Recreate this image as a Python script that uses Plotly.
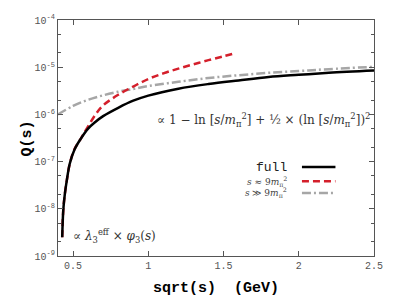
import plotly.graph_objects as go

# ---- data ----
x_full = [0.428, 0.435, 0.445, 0.458, 0.478, 0.51, 0.55, 0.6, 0.65, 0.7, 0.8, 0.9, 1.0, 1.2, 1.4, 1.6, 1.8, 2.0, 2.2, 2.5]
y_full = [2.5e-9, 9.3e-9, 2.0e-8, 3.9e-8, 9.0e-8, 1.8e-7, 3.0e-7, 5.0e-7, 7.0e-7, 9.2e-7, 1.38e-6, 1.95e-6, 2.5e-6, 3.5e-6, 4.4e-6, 5.25e-6, 6.2e-6, 6.9e-6, 7.6e-6, 8.5e-6]

x_thr = [0.428, 0.435, 0.445, 0.458, 0.478, 0.51, 0.55, 0.6, 0.65, 0.7, 0.8, 0.9, 1.0, 1.1, 1.2, 1.3, 1.4, 1.5, 1.58]
y_thr = [2.5e-9, 9.3e-9, 2.0e-8, 3.9e-8, 9.0e-8, 1.85e-7, 3.0e-7, 5.6e-7, 1.0e-6, 1.55e-6, 2.6e-6, 3.89e-6, 5.62e-6, 7.41e-6, 9.33e-6, 1.15e-5, 1.41e-5, 1.70e-5, 2.0e-5]

x_asy = [0.4, 0.5, 0.6, 0.7, 0.8, 0.9, 1.0, 1.2, 1.4, 1.6, 1.8, 2.0, 2.2, 2.5]
y_asy = [1.0e-6, 1.51e-6, 2.04e-6, 2.54e-6, 3.02e-6, 3.47e-6, 3.98e-6, 4.9e-6, 5.9e-6, 6.76e-6, 7.6e-6, 8.3e-6, 9.1e-6, 1.02e-5]

x_ticks = [0.5, 1, 1.5, 2, 2.5]
x_ticklabels = ["0.5", "1", "1.5", "2", "2.5"]
y_ticks = [1e-9, 1e-8, 1e-7, 1e-6, 1e-5, 1e-4]
y_ticklabels = ["10<sup>-9</sup>", "10<sup>-8</sup>", "10<sup>-7</sup>", "10<sup>-6</sup>", "10<sup>-5</sup>", "10<sup>-4</sup>"]
y_minor = [m * 10.0 ** e for e in range(-9, -4) for m in (2, 5)]

legend_labels = ["full", "<i>s</i> ≈ 9<i>m</i><sub>π</sub><sup>2</sup>", "<i>s</i> ≫ 9<i>m</i><sub>π</sub><sup>2</sup>"]

BLACK = "#000000"
RED = "#d41f2b"
GREY = "#a6a6a6"
AXC = "#555555"
MONO = "Liberation Mono, Courier New, monospace"
SERIF = "DejaVu Serif, Liberation Serif, serif"
DASH_RED = "7px,4px"
DASH_GREY = "9px,3px,2px,3px"

fig = go.Figure()
fig.add_trace(go.Scatter(x=x_asy, y=y_asy, mode="lines", line=dict(color=GREY, width=2.5, dash=DASH_GREY, shape="spline"), showlegend=False))
fig.add_trace(go.Scatter(x=x_thr, y=y_thr, mode="lines", line=dict(color=RED, width=2.5, dash=DASH_RED, shape="spline"), showlegend=False))
fig.add_trace(go.Scatter(x=x_full, y=y_full, mode="lines", line=dict(color=BLACK, width=2.5, shape="spline"), showlegend=False))

# legend drawn gnuplot-style: text right-aligned, sample to its right
leg_y = [0.377, 0.317, 0.267]
leg_styles = [dict(color=BLACK, width=2.5), dict(color=RED, width=2.5, dash=DASH_RED), dict(color=GREY, width=2.5, dash=DASH_GREY)]
leg_fonts = [dict(family=MONO, size=13, color="#222"), dict(family=SERIF, size=9, color="#444"), dict(family=SERIF, size=9, color="#444")]
for lab, yy, st, fnt in zip(legend_labels, leg_y, leg_styles, leg_fonts):
    fig.add_annotation(x=0.732, y=yy, xref="paper", yref="paper", text=lab, showarrow=False, xanchor="right", yanchor="middle", font=fnt)
    fig.add_shape(type="line", xref="paper", yref="paper", x0=0.772, x1=0.878, y0=yy, y1=yy, line=st)

fig.add_annotation(x=0.995, y=0.575, xref="paper", yref="paper", showarrow=False, xanchor="right", yanchor="middle",
                   text="∝ 1 − ln [<i>s</i>/<i>m</i><sub>π</sub><sup>2</sup>] + ½ × (ln [<i>s</i>/<i>m</i><sub>π</sub><sup>2</sup>])<sup>2</sup>",
                   font=dict(family=SERIF, size=12, color="#333"))
fig.add_annotation(x=0.04, y=0.085, xref="paper", yref="paper", showarrow=False, xanchor="left", yanchor="middle",
                   text="∝ <i>λ</i><sub>3</sub><sup>eff</sup> × <i>φ</i><sub>3</sub>(<i>s</i>)",
                   font=dict(family=SERIF, size=12, color="#333"))

# axis titles
fig.add_annotation(x=-0.13, y=0.5, xref="paper", yref="paper", showarrow=False, textangle=-90, text="<b>Q(s)</b>",
                   font=dict(family=MONO, size=15, color="#000"))
fig.add_annotation(x=0.5, y=-0.136, xref="paper", yref="paper", showarrow=False, yanchor="middle", text="<b>sqrt(s)  (GeV)</b>",
                   font=dict(family=MONO, size=15, color="#000"))

fig.update_layout(
    width=399, height=299,
    margin=dict(l=58, r=25, t=20, b=43),
    paper_bgcolor="white", plot_bgcolor="white",
    xaxis=dict(range=[0.4, 2.5], tickvals=x_ticks, ticktext=x_ticklabels, ticks="inside", ticklen=5, tickcolor=AXC,
               showline=True, linecolor=AXC, linewidth=1, mirror="ticks", showgrid=False, zeroline=False,
               tickfont=dict(family=MONO, size=10, color="#555")),
    yaxis=dict(type="log", range=[-9, -4], tickvals=y_ticks, ticktext=y_ticklabels, ticks="inside", ticklen=5, tickcolor=AXC,
               showline=True, linecolor=AXC, linewidth=1, mirror="ticks", showgrid=False, zeroline=False,
               tickfont=dict(family=MONO, size=10, color="#555"),
               minor=dict(tickvals=y_minor, ticks="inside", ticklen=3, tickcolor=AXC, showgrid=False)),
)

fig.write_html("out.html", config={"displayModeBar": False},
               post_script="document.body.style.margin='0';document.body.style.overflow='hidden';")
